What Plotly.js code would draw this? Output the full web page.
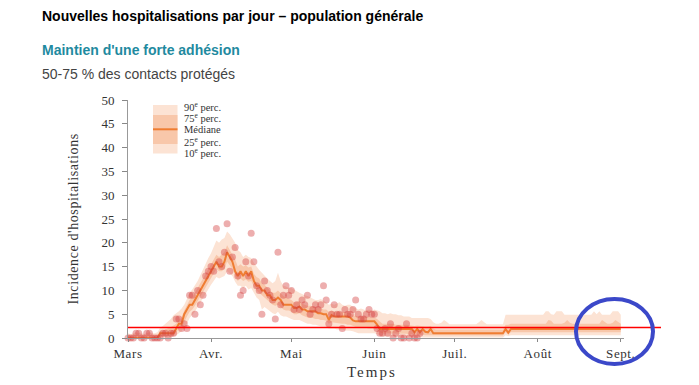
<!DOCTYPE html>
<html><head><meta charset="utf-8">
<script src="https://cdn.plot.ly/plotly-3.0.1.min.js"></script>
<style>html,body{margin:0;padding:0;background:#fff;}#chart{width:699px;height:385px;}</style>
</head><body><div id="chart"></div>
<script>
// ---- data (daily, starting 2020-03-01) ----
const startDate = '2020-03-01';
const dayMs = 86400000;

const observed = [
 0,0,0,1,1,0,0,1,1,0,
 0,0,0,1,1,0,1,1,4,4,
 2,3,2,9,9,5,10,7,9,13,
 14,15,14,23,16,15,18,24,14,17,
 19,13,9,10,16,13,22,16,11,10,
 5,12,10,9,8,4,18,7,9,11,
 9,10,6,7,6,8,7,9,5,6,
 7,6,7,11,8,3,5,7,5,5,
 2,6,5,5,6,8,5,4,4,5,
 6,5,5,2,1,1,2,1,3,0,
 1,2,0,0,3,0,1,0,0,1
];

const median = [
 0,0,0,0,0,0,0,0,0,0,
 0,0,1,1,1,1,1,1,2,3,
 3,5,6,7,7,8,9,10,11,12,
 13,14,15,16,15,15,16,18,17,16,
 14,13,14,13,14,13,14,12,11,11,
 10,10,9,9,8,8,8.5,8,7,7,
 7,7,6.3,6.3,6.6,6,6,5.6,5.6,5.6,
 5.6,5.2,5.2,5,5,3.8,4.8,4.5,4.5,4.5,
 4.5,4.5,4.5,4.3,3.7,3.5,3.5,3.5,3.5,3.5,
 3.5,3.5,3.5,2.8,1.9,1.9,1.9,1.9,1.9,1.9,
 1.9,1.9,1.9,1.9,1.9,1.9,1.9,1.2,1.9,1.2,
 1.9,1.3,1.2,1.9,1,1,1,1,1,1,
 1,1,1,1,1,1,1,1,1,1,
 1,1,1,1,1,1,1,1,1,1,
 1,1.9,1.1,1.9,1.9,1.9,1.9,1.9,1.9,1.9,
 1.9,1.9,1.9,1.9,1.9,1.9,1.9,1.9,1.9,1.9,
 1.9,1.9,1.9,1.9,1.9,1.9,1.9,1.9,1.9,1.9,
 1.9,1.9,1.9,1.9,1.9,1.9,1.9,1.9,1.9,1.9,
 1.9,1.9,1.9,1.9,1.9
];

const p10 = [
 0,0,0,0,0,0,0,0,0,0,
 0,0,0,0,0,0.1,0.2,0.3,0.6,1.0,
 1.4,2.2,3.0,4.2,4.8,5.5,6.5,7.5,8.5,9.5,
 10.5,11.2,12.0,12.8,12.5,12.8,13.0,14.0,13.5,13.0,
 11.8,11.0,11.0,10.5,11.0,10.2,10.5,9.5,8.5,8.0,
 6.0,6.5,6.0,5.5,5.2,5.0,5.5,4.8,4.5,4.5,
 4.2,4.0,3.8,3.8,3.8,3.5,3.2,3.0,3.0,2.8,
 2.8,2.6,2.4,2.4,2.3,2.0,2.0,2.0,1.8,1.8,
 1.8,1.6,1.6,1.5,1.4,1.2,1.0,1.0,1.0,1.0,
 1.0,1.0,1.0,0.8,0.5,0.3,0.3,0.3,0.3,0.3,
 0.2,0.2,0.2,0.2,0.2,0.2,0.2,0.2,0.2,0.2,
 0.1,0.1,0.1,0.1,0.1,0.1,0.1,0.1,0.1,0.1,
 0.1,0.1,0.1,0.1,0.1,0.1,0.1,0.1,0.1,0.1,
 0.1,0.1,0.1,0.1,0.1,0.1,0.1,0.1,0.1,0.1,
 0.1,0.6,0.4,0.6,0.6,0.6,0.6,0.6,0.6,0.6,
 0.6,0.6,0.6,0.6,0.6,0.6,0.6,0.6,0.6,0.6,
 0.6,0.6,0.6,0.6,0.6,0.6,0.6,0.6,0.6,0.6,
 0.6,0.6,0.6,0.6,0.6,0.6,0.6,0.6,0.6,0.6,
 0.6,0.6,0.6,0.6,0.6
];

const p25 = [
 0,0,0,0,0,0,0,0,0,0,
 0,0,0.3,0.4,0.5,0.5,0.6,0.7,1.2,2.0,
 2.2,3.5,4.5,5.5,6.0,6.8,7.8,8.8,9.8,10.8,
 11.5,12.5,13.5,14.5,14.0,14.0,14.5,16.0,15.3,14.5,
 13.0,12.0,12.5,12.0,12.3,11.8,12.0,10.8,10.0,9.5,
 8.8,8.5,7.8,7.5,7.0,6.8,7.0,6.5,6.0,5.8,
 5.8,5.5,5.0,5.0,5.2,4.8,4.5,4.3,4.2,4.2,
 4.0,4.0,3.8,3.8,3.6,3.0,3.3,3.2,3.2,3.0,
 3.0,3.0,2.8,2.8,2.5,2.3,2.2,2.2,2.1,2.1,
 2.0,2.0,2.0,1.8,1.2,1.0,1.0,1.0,1.0,1.0,
 1.0,1.0,0.9,0.9,0.9,0.8,0.8,0.6,0.7,0.6,
 0.7,0.6,0.6,0.6,0.5,0.5,0.5,0.5,0.5,0.5,
 0.5,0.5,0.5,0.5,0.5,0.5,0.5,0.5,0.5,0.5,
 0.5,0.5,0.5,0.5,0.5,0.5,0.5,0.5,0.5,0.5,
 0.5,1.2,0.8,1.2,1.2,1.2,1.2,1.2,1.2,1.2,
 1.2,1.2,1.2,1.2,1.2,1.2,1.2,1.2,1.2,1.2,
 1.2,1.2,1.2,1.2,1.2,1.2,1.2,1.2,1.2,1.2,
 1.2,1.2,1.2,1.2,1.2,1.2,1.2,1.2,1.2,1.2,
 1.2,1.2,1.2,1.2,1.2
];

const p75 = [
 0.4,0.3,0.4,0.5,0.4,0.4,0.3,0.4,0.5,0.4,
 0.4,0.5,1.5,1.6,1.8,2.0,2.3,2.6,3.0,3.8,
 4.3,5.8,7.0,8.0,8.5,9.5,10.5,11.5,12.5,13.6,
 14.5,15.5,16.5,17.5,17.0,17.5,18.0,19.5,18.5,17.8,
 16.5,15.0,15.5,15.0,15.3,14.8,15.0,13.5,12.8,12.5,
 11.5,11.2,10.5,10.0,9.5,9.5,10.0,9.3,8.8,8.5,
 8.3,8.0,7.5,7.5,7.8,7.2,7.0,6.8,6.8,6.6,
 6.5,6.3,6.3,6.0,6.0,5.5,5.8,5.5,5.5,5.5,
 5.4,5.4,5.3,5.2,4.8,4.6,4.5,4.5,4.5,4.4,
 4.4,4.3,4.3,4.0,3.5,3.0,3.0,3.0,3.1,3.0,
 2.8,2.8,2.9,2.8,2.8,2.7,2.6,2.5,2.6,2.5,
 2.5,2.4,2.4,2.5,2.0,1.8,1.8,1.8,1.8,1.8,
 1.8,1.8,1.8,1.8,1.8,1.8,1.8,1.8,1.8,1.8,
 1.8,1.8,1.8,1.8,1.8,1.8,1.8,1.8,1.8,1.8,
 1.8,2.8,2.8,3.0,3.0,3.0,3.0,3.0,3.0,3.0,
 3.0,3.0,3.0,3.0,3.0,3.0,3.0,3.8,3.6,3.0,
 3.0,3.0,3.0,3.2,3.8,3.2,3.0,3.0,3.0,3.0,
 3.0,3.0,3.0,3.0,3.0,3.0,3.0,3.8,3.3,3.0,
 3.0,3.2,3.8,3.3,3.0
];

const p90 = [
 1.0,0.8,1.0,1.2,1.0,1.0,0.8,1.0,1.2,1.0,
 1.0,1.2,2.2,2.5,3.0,3.5,4.0,4.8,5.2,5.6,
 6.2,7.0,8.2,9.5,10.2,11.0,12.0,13.2,14.5,15.5,
 16.8,17.8,19.0,20.5,20.0,20.7,21.0,22.4,21.8,21.0,
 20.0,18.5,18.0,17.0,17.5,17.0,16.8,15.8,15.0,14.3,
 13.7,13.0,12.5,12.0,11.5,12.0,13.7,12.0,11.0,10.8,
 10.5,10.5,10.1,9.8,9.5,9.2,9.0,8.8,8.5,8.3,
 8.0,8.0,8.2,7.8,7.5,7.0,7.2,7.0,7.2,7.5,
 7.0,6.8,7.0,7.0,6.5,6.3,6.0,6.2,6.0,5.8,
 6.0,5.8,6.0,5.8,5.6,5.2,5.2,5.0,5.2,5.0,
 5.0,4.8,4.8,4.5,4.5,4.5,4.2,4.2,4.3,4.2,
 4.2,4.2,4.2,4.0,3.3,3.0,3.0,3.2,3.8,3.4,
 2.9,2.9,2.9,2.9,2.9,2.9,2.9,2.9,2.9,2.9,
 2.9,3.3,3.8,3.3,2.9,2.9,2.9,2.9,2.9,2.9,
 2.9,4.9,4.9,4.9,4.9,4.9,4.9,4.9,4.9,4.9,
 4.9,4.9,4.9,4.9,4.9,4.9,5.6,5.6,5.0,4.9,
 5.6,5.6,5.6,4.9,4.9,4.9,4.9,4.9,4.9,4.9,
 4.9,4.9,4.9,4.9,5.6,5.0,5.6,4.9,4.9,4.9,
 4.9,5.6,5.6,5.6,4.9
];

const tickDates = ['2020-03-01','2020-04-01','2020-05-01','2020-06-01','2020-07-01','2020-08-01','2020-09-01'];
const tickLabels = ['Mars','Avr.','Mai','Juin','Juil.','Août','Sept.'];
const yTicks = [0,5,10,15,20,25,30,35,40,45,50];
const referenceLevel = 2.2;
const legendLabels = ['90<sup>e</sup> perc.','75<sup>e</sup> perc.','Médiane','25<sup>e</sup> perc.','10<sup>e</sup> perc.'];

// ---- style ----
const W = 699, H = 385;
const M = {l:128, r:75, t:100, b:47};
const PW = W - M.l - M.r, PH = H - M.t - M.b;
const px = p => (p - M.l) / PW;       // pixel x -> paper
const py = p => (H - M.b - p) / PH;   // pixel y -> paper
const serif = 'Liberation Serif, Times New Roman, serif';
const sans = 'Liberation Sans, Arial, sans-serif';
const lightBand = 'rgb(252,227,212)';
const darkBand = 'rgb(248,199,170)';
const orange = 'rgb(239,125,50)';
const clear = {color:'rgba(0,0,0,0)', width:0};
const sp = (t, s) => '<span style="letter-spacing:' + s + 'px">' + t + '</span>';

const common = {x0: startDate, dx: dayMs, type:'scatter', mode:'lines', hoverinfo:'skip', showlegend:false};
const traces = [
  Object.assign({}, common, {y: p10, line: clear}),
  Object.assign({}, common, {y: p90, line: clear, fill:'tonexty', fillcolor: lightBand}),
  Object.assign({}, common, {y: p25, line: clear}),
  Object.assign({}, common, {y: p75, line: clear, fill:'tonexty', fillcolor: darkBand}),
  Object.assign({}, common, {y: median, line:{color: orange, width:2}}),
  Object.assign({}, common, {y: observed, mode:'markers', cliponaxis:false,
    marker:{size:7, color:'rgba(212,62,62,0.42)', line:{width:0}}})
];

const xRange = ['2020-03-01', '2020-09-02 05:00'];
const tickFont = {family: serif, size: 13, color:'#333'};

const annotations = [
  {text:'<b>Nouvelles hospitalisations par jour – population générale</b>', x:px(40), y:py(16),
   font:{family:sans, size:14, color:'#000'}},
  {text:'<b>Maintien d\'une forte adhésion</b>', x:px(40), y:py(50),
   font:{family:sans, size:14, color:'#1f8aa0'}},
  {text:'50-75 % des contacts protégés', x:px(40), y:py(74),
   font:{family:sans, size:14, color:'#444'}},
].map(a => Object.assign({xref:'paper', yref:'paper', xanchor:'left', yanchor:'middle', showarrow:false}, a));

annotations.push({text: sp('Incidence d\'hospitalisations', 0.6), xref:'paper', yref:'paper',
  x: px(72.5), y: 0.5, textangle:-90, showarrow:false, xanchor:'center', yanchor:'middle',
  font:{family:serif, size:14, color:'#333'}});
annotations.push({text: sp('Temps', 2), xref:'paper', yref:'paper',
  x: px(372), y: py(372), showarrow:false, xanchor:'center', yanchor:'middle',
  font:{family:serif, size:15, color:'#333'}});

const legendY = [106, 117, 129, 141.5, 152.5];
legendLabels.forEach((t, i) => annotations.push({text: t, xref:'paper', yref:'paper',
  x: px(182), y: py(legendY[i]), showarrow:false, xanchor:'left', yanchor:'middle',
  font:{family:serif, size:10.5, color:'#333'}}));

const shapes = [
  {type:'rect', xref:'paper', yref:'paper', x0:px(153), x1:px(177.5), y0:py(153.5), y1:py(105),
   fillcolor: lightBand, line:{width:0}},
  {type:'rect', xref:'paper', yref:'paper', x0:px(153), x1:px(177.5), y0:py(144), y1:py(115),
   fillcolor: darkBand, line:{width:0}},
  {type:'line', xref:'paper', yref:'paper', x0:px(153), x1:px(177.5), y0:py(129.3), y1:py(129.3),
   line:{color: orange, width:2}},
  {type:'line', xref:'paper', yref:'paper', x0:0, x1:px(661), y0:referenceLevel/50, y1:referenceLevel/50,
   line:{color:'rgb(255,0,0)', width:1.6}},
  {type:'circle', xref:'paper', yref:'paper', x0:px(576), x1:px(653), y0:py(364), y1:py(299),
   line:{color:'#3b48c9', width:4}, fillcolor:'rgba(0,0,0,0)'}
];

const layout = {
  width: W, height: H, margin: M,
  paper_bgcolor:'#fff', plot_bgcolor:'#fff',
  showlegend:false,
  xaxis: {type:'date', range:xRange, tickvals:tickDates, ticktext: tickLabels.map(t => sp(t, 0.6)),
    ticks:'outside', ticklen:3, tickcolor:'#888', showline:true, linecolor:'#999', linewidth:1,
    showgrid:false, zeroline:false, tickfont: tickFont, fixedrange:true},
  xaxis2: {type:'date', range:xRange, overlaying:'x', anchor:'y', tickvals:tickDates,
    ticks:'inside', ticklen:3, tickcolor:'#888', showticklabels:false, showline:false,
    showgrid:false, zeroline:false},
  yaxis: {range:[0,50], tickvals:yTicks, ticks:'outside', ticklen:5, tickcolor:'#888',
    showline:true, linecolor:'#999', linewidth:1, showgrid:false, zeroline:false,
    tickfont: tickFont, ticklabelstandoff:5, fixedrange:true},
  annotations, shapes
};

Plotly.newPlot('chart', traces, layout, {staticPlot:true, displayModeBar:false});
</script>
</body></html>
